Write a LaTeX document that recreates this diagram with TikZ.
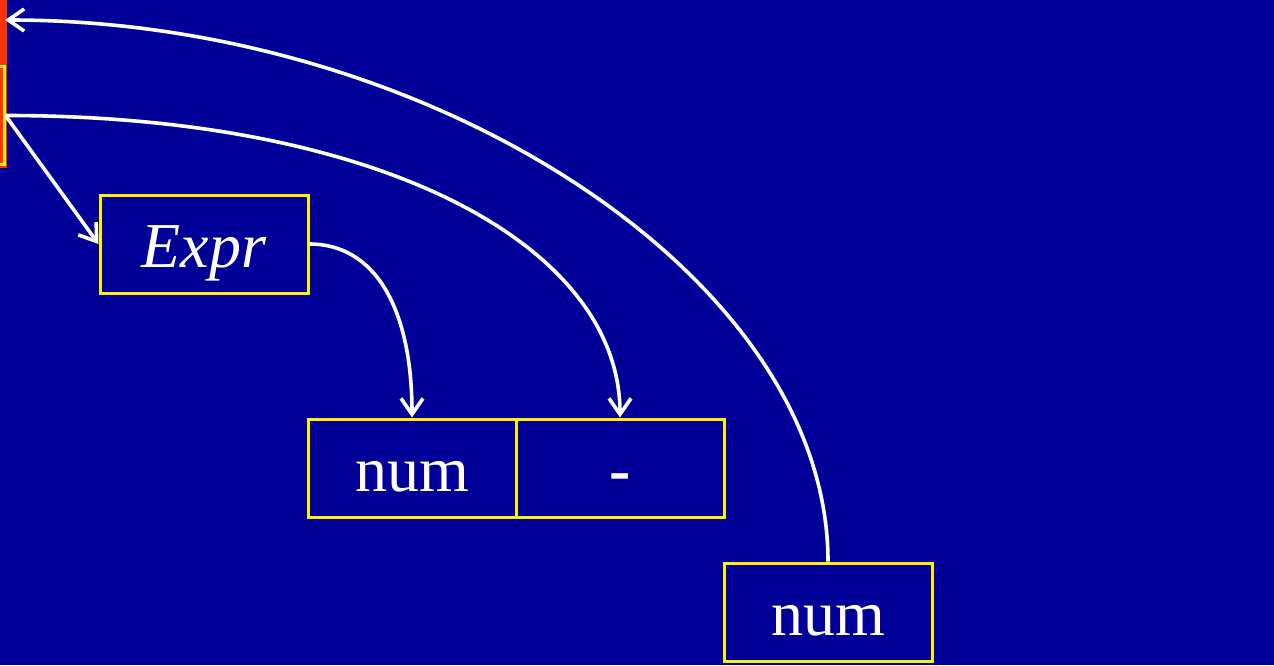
\documentclass[tikz,border=0pt]{standalone}
\usepackage{fontspec}
\setmainfont{Liberation Serif}
\usetikzlibrary{arrows.meta}
\definecolor{bgblue}{RGB}{0,0,153}
\definecolor{barred}{RGB}{255,51,0}
\tikzset{
  cell/.style={draw=yellow, line width=1.5pt, minimum width=104pt, minimum height=49pt,
    inner sep=0pt, text height=23.5pt, text depth=0pt, text=white,
    font=\fontsize{32}{38}\selectfont},
  link/.style={white, line width=1.8pt, -{Straight Barb[length=8pt,width=11pt]}}
}
\begin{document}
\begin{tikzpicture}[x=0.5pt, y=-0.5pt]
\useasboundingbox (0,0) rectangle (1274,665);
\fill[bgblue] (0,0) rectangle (1274,665);
\fill[barred] (0,0) rectangle (7,168);
\node[cell] (stmt) at (-100,115.5) {};
\node[cell] (expr) at (204,244) {\itshape Expr};
\node[cell] (num) at (412,468) {num};
\node[cell] (minus) at (620,468) {\bfseries -};
\node[cell] (num2) at (828,612) {num};
\coordinate (up) at (5,20);
\draw[link] (stmt.east) -- (expr.west);
\draw[link] (expr.east) .. controls +(65,0) and +(0,-110) .. (num.north);
\draw[link] (stmt.east) .. controls +(380,0) and +(0,-170) .. (minus.north);
\draw[link] (num2.north) .. controls +(0,-285) and +(425,0) .. (up);
\end{tikzpicture}
\end{document}
